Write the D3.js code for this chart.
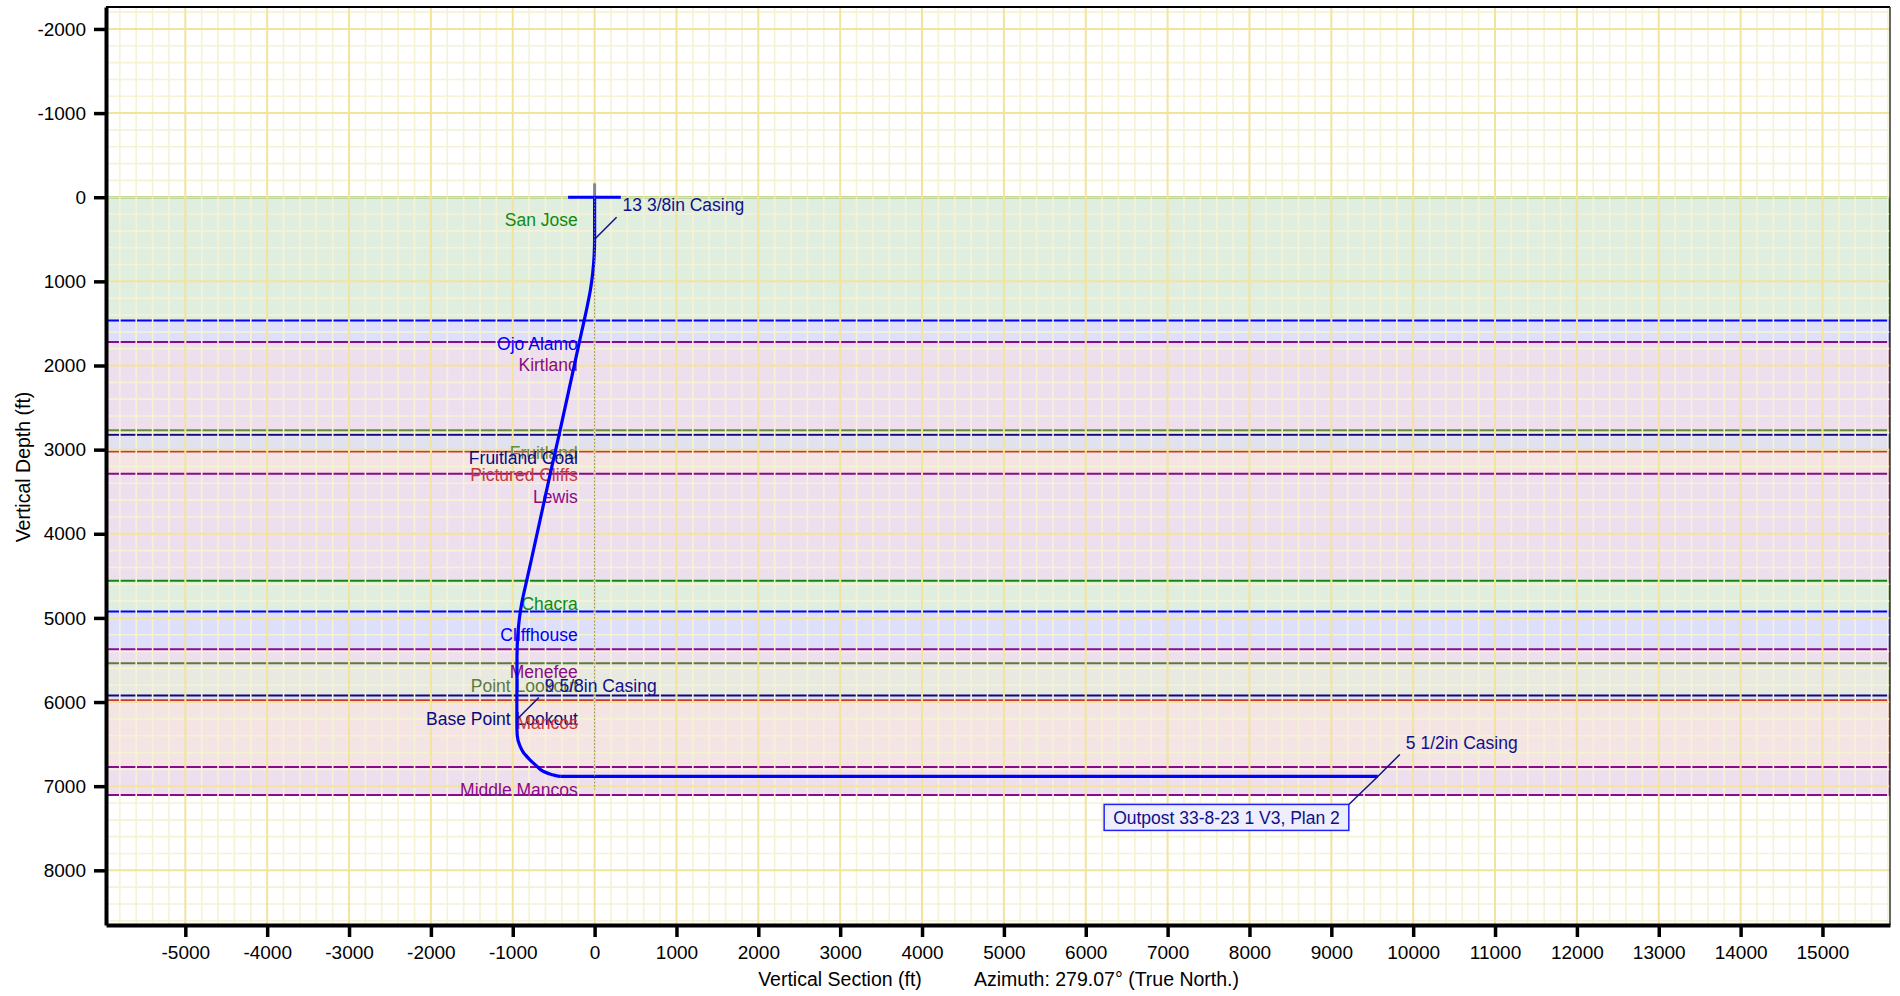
<!DOCTYPE html>
<html>
<head>
<meta charset="utf-8">
<script src="https://cdn.jsdelivr.net/npm/d3@7"></script>
<style>
  body { margin: 0; background: #fff; }
  text { font-family: "Liberation Sans", Arial, sans-serif; }
</style>
</head>
<body>
<script>
// formation tops (TVD, ft)
var formNames = ["San Jose", "Ojo Alamo", "Kirtland", "Fruitland", "Fruitland Coal",
  "Pictured Cliffs", "Lewis", "Chacra", "Cliffhouse", "Menefee", "Point Lookout",
  "Base Point Lookout", "Mancos", "Middle Mancos"];
var formTops = [0, 1465, 1720, 2770, 2822, 3022, 3288, 4557, 4923, 5373, 5538, 5923, 5978, 6772];
var formBase = 7104;
var formColors = ["#108a10", "#0000ff", "#8a0a8a", "#6b8a3a", "#0a0a80",
  "#c83838", "#8a0a8a", "#108a10", "#0000ff", "#8a0a8a", "#5e7a3e",
  "#0a0a80", "#c83838", "#8a0a8a"];
var formFills = ["#dfeedf", "#dedffb", "#eedfee", "#e5e8dc", "#e1e1ef",
  "#f4e4e4", "#eedfee", "#dfeedf", "#dedffb", "#eedfee", "#e8eae1",
  "#e1e1ef", "#f4e4e4", "#eedfee"];

// well path: vertical section vs true vertical depth
var trajTVD = [0, 500, 700, 900, 1100, 1300, 1733, 2763, 3274, 4306, 4700, 4822, 5000, 5200,
  5450, 6250, 6400, 6525, 6600, 6683, 6750, 6822, 6861, 6878, 6884, 6884];
var trajVS = [0, 0, -6, -23, -51, -91, -189, -420, -539, -772, -863, -890, -918, -938,
  -948, -950, -945, -911, -870, -793, -720, -630, -528, -460, -420, 9568];

// casing points
var casingNames = ["13 3/8in Casing", "9 5/8in Casing", "5 1/2in Casing"];
var casingTVD = [500, 6207, 6884];
var casingVS = [0, -950, 9568];

var wellLabel = "Outpost 33-8-23 1 V3, Plan 2";

var xTickVals = [-5000, -4000, -3000, -2000, -1000, 0, 1000, 2000, 3000, 4000, 5000,
  6000, 7000, 8000, 9000, 10000, 11000, 12000, 13000, 14000, 15000];
var yTickVals = [-2000, -1000, 0, 1000, 2000, 3000, 4000, 5000, 6000, 7000, 8000];

var totalWidth = 1900;
var totalHeight = 996;
var frame = { left: 106, top: 7, right: 1890, bottom: 925 };

var x = d3.scaleLinear().domain([-5969, 15825]).range([frame.left, frame.right]);
var y = d3.scaleLinear().domain([-2261, 8650]).range([frame.top, frame.bottom]);

var translation = function(a, b) {
  return "translate(" + a + "," + b + ")";
};

var svg = d3.select("body").append("svg")
  .attr("width", totalWidth)
  .attr("height", totalHeight);

// formation bands
var bands = svg.append("g");
formTops.forEach(function(t, i) {
  var b = i < formTops.length - 1 ? formTops[i + 1] : formBase;
  bands.append("rect")
    .attr("x", frame.left)
    .attr("y", y(t))
    .attr("width", frame.right - frame.left)
    .attr("height", y(b) - y(t))
    .attr("fill", formFills[i]);
  bands.append("line")
    .attr("x1", frame.right - 1).attr("x2", frame.right - 1)
    .attr("y1", y(t)).attr("y2", y(b))
    .attr("stroke", formColors[i])
    .attr("stroke-width", 2);
});
formTops.forEach(function(t, i) {
  bands.append("line")
    .attr("x1", frame.left).attr("x2", frame.right)
    .attr("y1", y(t)).attr("y2", y(t))
    .attr("stroke", formColors[i])
    .attr("stroke-width", 2);
});
bands.append("line")
  .attr("x1", frame.left).attr("x2", frame.right)
  .attr("y1", y(formBase)).attr("y2", y(formBase))
  .attr("stroke", formColors[formColors.length - 1])
  .attr("stroke-width", 2);

// grid
var grid = svg.append("g");
var xMinor = d3.range(-5800, 15801, 200).filter(function(v) { return v % 1000 !== 0; });
var yMinor = d3.range(-2200, 8601, 200).filter(function(v) { return v % 1000 !== 0; });
var xMajor = d3.range(-5000, 15001, 1000);
var yMajor = d3.range(-2000, 8001, 1000);

grid.selectAll(".xmin").data(xMinor).enter().append("line")
  .attr("x1", x).attr("x2", x)
  .attr("y1", frame.top).attr("y2", frame.bottom)
  .attr("stroke", "#f6f2d4").attr("stroke-width", 1.6);
grid.selectAll(".ymin").data(yMinor).enter().append("line")
  .attr("y1", y).attr("y2", y)
  .attr("x1", frame.left).attr("x2", frame.right)
  .attr("stroke", "#f6f2d4").attr("stroke-width", 1.6);
grid.selectAll(".xmaj").data(xMajor).enter().append("line")
  .attr("x1", x).attr("x2", x)
  .attr("y1", frame.top).attr("y2", frame.bottom)
  .attr("stroke", "#f2e49c").attr("stroke-width", 2);
grid.selectAll(".ymaj").data(yMajor).enter().append("line")
  .attr("y1", y).attr("y2", y)
  .attr("x1", frame.left).attr("x2", frame.right)
  .attr("stroke", "#f2e49c").attr("stroke-width", 2);

// formation labels
formNames.forEach(function(n, i) {
  svg.append("text")
    .attr("x", x(-205))
    .attr("y", y(formTops[i]) + 23)
    .attr("dy", "0.35em")
    .attr("text-anchor", "end")
    .attr("fill", formColors[i])
    .style("font-size", "17.5px")
    .text(n);
});

// rig floor marker
svg.append("line")
  .attr("x1", x(0)).attr("x2", x(0))
  .attr("y1", y(-165)).attr("y2", y(0))
  .attr("stroke", "#888").attr("stroke-width", 3);

// well path
var trajData = trajTVD.map(function(d, i) { return { vs: trajVS[i], tvd: d }; });
var lineFunction = d3.line()
  .x(function(d) { return x(d.vs); })
  .y(function(d) { return y(d.tvd); })
  .curve(d3.curveMonotoneY);
svg.append("path")
  .datum(trajData.slice(0, trajData.length - 1))
  .attr("d", lineFunction)
  .attr("fill", "none")
  .attr("stroke", "#0000ff")
  .attr("stroke-width", 3.2);
svg.append("path")
  .datum(trajData.slice(trajData.length - 2))
  .attr("d", d3.line().x(function(d) { return x(d.vs); }).y(function(d) { return y(d.tvd); }))
  .attr("fill", "none")
  .attr("stroke", "#0000ff")
  .attr("stroke-width", 3.2);

// surface bar
svg.append("line")
  .attr("x1", x(-324)).attr("x2", x(320))
  .attr("y1", y(0)).attr("y2", y(0))
  .attr("stroke", "#0000ff").attr("stroke-width", 3);

// vertical reference dotted line
svg.append("line")
  .attr("x1", x(0)).attr("x2", x(0))
  .attr("y1", y(0)).attr("y2", y(7040))
  .attr("stroke", "#808080").attr("stroke-width", 1)
  .attr("stroke-dasharray", "1.5,2");

// casing labels
casingNames.forEach(function(n, i) {
  var px = x(casingVS[i]);
  var py = y(casingTVD[i]);
  svg.append("line")
    .attr("x1", px).attr("y1", py)
    .attr("x2", px + 22).attr("y2", py - 22)
    .attr("stroke", "#10108a").attr("stroke-width", 1.5);
  svg.append("text")
    .attr("x", px + 28)
    .attr("y", py - 34)
    .attr("dy", "0.35em")
    .attr("fill", "#10108a")
    .style("font-size", "17.5px")
    .text(n);
});

// well name box
var endX = x(trajVS[trajVS.length - 1]);
var endY = y(trajTVD[trajTVD.length - 1]);
var boxRight = endX - 29;
var boxTop = endY + 28;
svg.append("line")
  .attr("x1", endX).attr("y1", endY)
  .attr("x2", boxRight).attr("y2", boxTop)
  .attr("stroke", "#10108a").attr("stroke-width", 1.5);
var boxG = svg.append("g");
var boxRect = boxG.append("rect");
var boxText = boxG.append("text")
  .attr("y", boxTop + 13)
  .attr("dy", "0.35em")
  .attr("text-anchor", "middle")
  .attr("fill", "#10108a")
  .style("font-size", "17.5px")
  .text(wellLabel);
var tw = boxText.node().getComputedTextLength();
var bw = tw + 18;
boxRect
  .attr("x", boxRight - bw)
  .attr("y", boxTop)
  .attr("width", bw)
  .attr("height", 26)
  .attr("fill", "#eeeefc")
  .attr("stroke", "#2020ff")
  .attr("stroke-width", 1.5);
boxText.attr("x", boxRight - bw / 2);

// frame top and right
svg.append("line")
  .attr("x1", frame.left).attr("x2", frame.right)
  .attr("y1", frame.top).attr("y2", frame.top)
  .attr("stroke", "#000").attr("stroke-width", 2);
svg.append("line")
  .attr("x1", frame.right).attr("x2", frame.right)
  .attr("y1", frame.top).attr("y2", frame.bottom)
  .attr("stroke", "#333").attr("stroke-width", 1.5);

// axes (plain hyphen for negatives)
var fmt = function(d) { return String(d); };
var xAxis = svg.append("g")
  .attr("transform", translation(0, frame.bottom))
  .call(d3.axisBottom(x).tickValues(xTickVals).tickFormat(fmt)
    .tickSize(12).tickPadding(9).tickSizeOuter(0));
var yAxis = svg.append("g")
  .attr("transform", translation(frame.left, 0))
  .call(d3.axisLeft(y).tickValues(yTickVals).tickFormat(fmt)
    .tickSize(12).tickPadding(8).tickSizeOuter(0));

[xAxis, yAxis].forEach(function(a) {
  a.select(".domain").attr("stroke", "#000").attr("stroke-width", 4);
  a.selectAll(".tick line").attr("stroke", "#000").attr("stroke-width", 3.5);
  a.selectAll(".tick text")
    .attr("fill", "#000")
    .style("font-size", "19px")
    .style("font-family", "'Liberation Sans', Arial, sans-serif");
});

// axis titles
svg.append("text")
  .attr("x", 840)
  .attr("y", 986)
  .attr("text-anchor", "middle")
  .style("font-size", "19.5px")
  .text("Vertical Section (ft)");

svg.append("text")
  .attr("x", 974)
  .attr("y", 986)
  .style("font-size", "19.5px")
  .text("Azimuth: 279.07\u00b0 (True North.)");

svg.append("text")
  .attr("transform", translation(23, 467) + " rotate(-90)")
  .attr("text-anchor", "middle")
  .attr("dy", "0.35em")
  .style("font-size", "19.5px")
  .text("Vertical Depth (ft)");
</script>
</body>
</html>
